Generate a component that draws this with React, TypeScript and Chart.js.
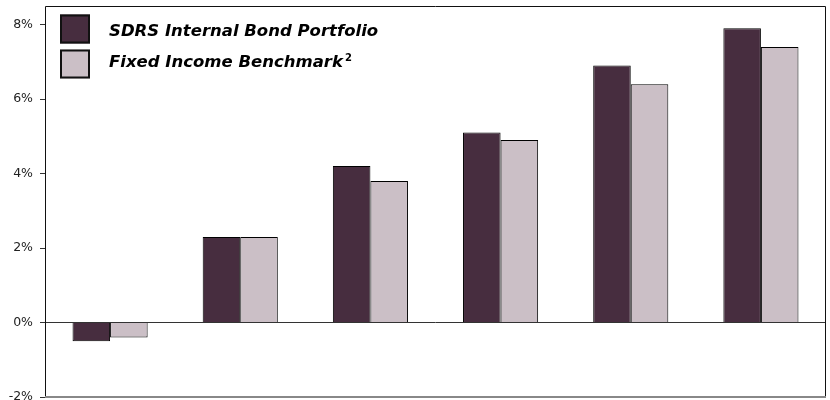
import React, { useEffect, useRef } from "react";
import { Chart, registerables } from "chart.js";

Chart.register(...registerables);

const categories = ["1", "2", "3", "4", "5", "6"];
const portfolioValues = [-0.5, 2.3, 4.2, 5.1, 6.9, 7.9];
const benchmarkValues = [-0.4, 2.3, 3.8, 4.9, 6.4, 7.4];
const yTicks = [-2, 0, 2, 4, 6, 8];
const seriesNames = ["SDRS Internal Bond Portfolio", "Fixed Income Benchmark"];

const DARK = "#472D3F";
const LIGHT = "#CBBFC6";

const framePlugin = {
  id: "frame",
  afterDraw(chart: any) {
    const { ctx, chartArea } = chart;
    const { left, top, right, bottom } = chartArea;
    ctx.save();
    ctx.lineWidth = 1;
    ctx.strokeStyle = "#111";
    ctx.beginPath();
    ctx.moveTo(left + 0.5, bottom);
    ctx.lineTo(left + 0.5, top + 0.5);
    ctx.lineTo(right - 0.5, top + 0.5);
    ctx.lineTo(right - 0.5, bottom);
    ctx.stroke();
    ctx.strokeStyle = "#888";
    ctx.lineWidth = 2;
    ctx.beginPath();
    ctx.moveTo(left, bottom);
    ctx.lineTo(right, bottom);
    ctx.stroke();

    // legend
    const colors = [DARK, LIGHT];
    const bx = left + 15;
    const rows = [top + 8.5, top + 43.5];
    const baselines = [top + 30, top + 60.5];
    ctx.textBaseline = "alphabetic";
    ctx.textAlign = "left";
    rows.forEach((y, i) => {
      ctx.fillStyle = colors[i];
      ctx.fillRect(bx, y, 30, 29);
      ctx.lineWidth = 2;
      ctx.strokeStyle = "#111";
      ctx.strokeRect(bx + 1, y + 1, 28, 27);
      ctx.fillStyle = "#000";
      ctx.font = "italic bold 16.5px 'DejaVu Sans'";
      const ty = baselines[i];
      ctx.fillText(seriesNames[i], left + 64, ty);
      if (i === 1) {
        const w = ctx.measureText(seriesNames[i]).width;
        ctx.font = "bold 10px 'DejaVu Sans'";
        ctx.fillText("2", left + 64 + w + 2, ty - 6);
      }
    });
    ctx.restore();
  },
};

function BarChart() {
  const ref = useRef<HTMLCanvasElement | null>(null);
  useEffect(() => {
    if (!ref.current) return;
    const chart = new Chart(ref.current, {
      type: "bar",
      data: {
        labels: categories,
        datasets: [
          {
            label: seriesNames[0],
            data: portfolioValues,
            backgroundColor: DARK,
            borderColor: "#000",
            borderWidth: 1,
            categoryPercentage: 0.577,
            barPercentage: 1,
          },
          {
            label: seriesNames[1],
            data: benchmarkValues,
            backgroundColor: LIGHT,
            borderColor: "#000",
            borderWidth: 1,
            categoryPercentage: 0.577,
            barPercentage: 1,
          },
        ],
      },
      options: {
        animation: false,
        responsive: false,
        layout: { padding: { top: 6, right: 4, bottom: 3, left: 0 } },
        plugins: { legend: { display: false }, tooltip: { enabled: false } },
        scales: {
          x: { display: false },
          y: {
            min: -2,
            max: 8.5,
            afterBuildTicks: (scale: any) => {
              scale.ticks = yTicks.map((v) => ({ value: v }));
            },
            afterFit: (scale: any) => {
              scale.width = 45;
              scale.paddingTop = 0;
              scale.paddingBottom = 0;
            },
            border: { display: false },
            grid: {
              drawOnChartArea: true,
              color: (c: any) => (c.tick && c.tick.value === 0 ? "#333" : "rgba(0,0,0,0)"),
              tickColor: "#333",
              tickLength: 5,
              lineWidth: 1,
            },
            ticks: {
              padding: 7,
              color: "#222",
              font: { family: "'DejaVu Sans'", size: 12.5 },
              callback: (v: any) => `${v}%`,
            },
          },
        },
      },
      plugins: [framePlugin],
    });
    return () => chart.destroy();
  }, []);
  return <canvas ref={ref} width={830} height={400} style={{ display: "block" }} />;
}

export default function App() {
  return (
    <div style={{ position: "absolute", left: 0, top: 0, width: 830, height: 400, background: "#fff" }}>
      <BarChart />
    </div>
  );
}
